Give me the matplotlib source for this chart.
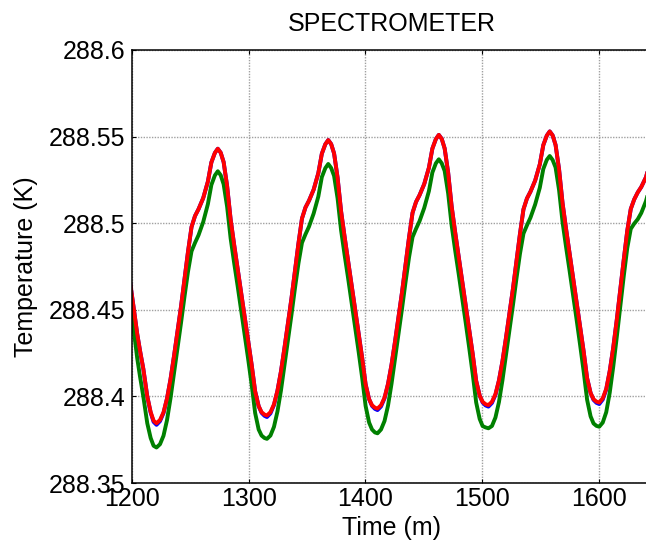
import matplotlib
matplotlib.use("Agg")
import matplotlib.pyplot as plt

plt.rcParams['font.family'] = ['Liberation Sans', 'DejaVu Sans']

# time (m) and temperature (K) readings for the three sensors
time_m = [
    1196, 1199, 1201.7, 1204.5, 1207, 1209.7, 1213.1, 1216, 1218.5,
    1221.0, 1224.0, 1227.0, 1230.0, 1233.0, 1236.0, 1239.0, 1242.0, 1245.0, 1248.0, 1251.0, 1254.0, 1257.0, 1261.0, 1265.0, 1268.0, 1271.0, 1273.5,
    1276.0, 1278.5, 1281.5, 1284.5, 1287.5, 1290.5, 1293.5, 1296.5, 1299.5, 1302.5, 1305.5, 1308.5, 1311.0, 1313.5,
    1315.6, 1318.6, 1321.6, 1324.6, 1327.6, 1330.6, 1333.6, 1336.6, 1339.6, 1342.6, 1345.6, 1348.6, 1351.6, 1355.6, 1359.6, 1362.6, 1365.6, 1368.1,
    1370.6, 1373.1, 1376.1, 1379.1, 1382.1, 1385.1, 1388.1, 1391.1, 1394.1, 1397.1, 1400.1, 1403.1, 1405.6, 1408.1,
    1410.3, 1413.3, 1416.3, 1419.3, 1422.3, 1425.3, 1428.3, 1431.3, 1434.3, 1437.3, 1440.3, 1443.3, 1446.3, 1450.3, 1454.3, 1457.3, 1460.3, 1462.8,
    1465.3, 1467.8, 1470.8, 1473.8, 1476.8, 1479.8, 1482.8, 1485.8, 1488.8, 1491.8, 1494.8, 1497.8, 1500.3, 1502.8,
    1505.3, 1508.3, 1511.3, 1514.3, 1517.3, 1520.3, 1523.3, 1526.3, 1529.3, 1532.3, 1535.3, 1538.3, 1541.3, 1545.3, 1549.3, 1552.3, 1555.3, 1557.8,
    1560.3, 1562.8, 1565.8, 1568.8, 1571.8, 1574.8, 1577.8, 1580.8, 1583.8, 1586.8, 1589.8, 1592.8, 1595.3, 1597.8,
    1600.2, 1603.2, 1606.2, 1609.2, 1612.2, 1615.2, 1618.2, 1621.2, 1624.2, 1627.2, 1630.2, 1633.2, 1636.2, 1640.2, 1644.2, 1647.2,
]

temp_red = [
    288.478, 288.463, 288.45, 288.436, 288.426, 288.416, 288.40, 288.391, 288.386,
    288.3845, 288.3864, 288.3908, 288.3988, 288.4099, 288.4233, 288.4376, 288.4519, 288.4677, 288.4836, 288.4978, 288.5042, 288.5081, 288.5145, 288.524, 288.5351, 288.5406, 288.543,
    288.5407, 288.5353, 288.5214, 288.5022, 288.4876, 288.4737, 288.4598, 288.446, 288.4321, 288.4183, 288.4029, 288.3944, 288.3909, 288.3895,
    288.389, 288.3909, 288.3954, 288.4033, 288.4144, 288.428, 288.4423, 288.4566, 288.4725, 288.4884, 288.5027, 288.5091, 288.513, 288.5194, 288.5289, 288.5401, 288.5456, 288.548,
    288.5457, 288.5403, 288.5263, 288.5069, 288.4922, 288.4783, 288.4643, 288.4504, 288.4364, 288.4225, 288.407, 288.3984, 288.3949, 288.3935,
    288.393, 288.3949, 288.3993, 288.4072, 288.4183, 288.4317, 288.4459, 288.4602, 288.476, 288.4918, 288.506, 288.5123, 288.5162, 288.5226, 288.532, 288.5431, 288.5486, 288.551,
    288.5487, 288.5432, 288.5292, 288.5097, 288.4948, 288.4808, 288.4668, 288.4527, 288.4387, 288.4246, 288.409, 288.4005, 288.3969, 288.3955,
    288.395, 288.3969, 288.4013, 288.4092, 288.4203, 288.4337, 288.4479, 288.4622, 288.478, 288.4938, 288.508, 288.5143, 288.5182, 288.5246, 288.534, 288.5451, 288.5506, 288.553,
    288.5507, 288.5452, 288.5311, 288.5115, 288.4967, 288.4826, 288.4685, 288.4544, 288.4403, 288.4262, 288.4106, 288.402, 288.3984, 288.397,
    288.3965, 288.3989, 288.4044, 288.4147, 288.4282, 288.4441, 288.4615, 288.4789, 288.4956, 288.5082, 288.5138, 288.5178, 288.5209, 288.5265, 288.536, 288.5447,
]

temp_blue = [
    288.478, 288.463, 288.45, 288.436, 288.426, 288.416, 288.40, 288.3906, 288.3853,
    288.3836, 288.3857, 288.3904, 288.3988, 288.4099, 288.4233, 288.4376, 288.4519, 288.4677, 288.4836, 288.4978, 288.5042, 288.5081, 288.5145, 288.524, 288.5351, 288.5406, 288.543,
    288.5407, 288.5353, 288.5214, 288.5022, 288.4876, 288.4737, 288.4598, 288.446, 288.4321, 288.4183, 288.4029, 288.3944, 288.3905, 288.3888,
    288.3881, 288.3902, 288.395, 288.4033, 288.4144, 288.428, 288.4423, 288.4566, 288.4725, 288.4884, 288.5027, 288.5091, 288.513, 288.5194, 288.5289, 288.5401, 288.5456, 288.548,
    288.5457, 288.5403, 288.5263, 288.5069, 288.4922, 288.4783, 288.4643, 288.4504, 288.4364, 288.4225, 288.407, 288.3984, 288.3945, 288.3928,
    288.3921, 288.3942, 288.3989, 288.4072, 288.4183, 288.4317, 288.4459, 288.4602, 288.476, 288.4918, 288.506, 288.5123, 288.5162, 288.5226, 288.532, 288.5431, 288.5486, 288.551,
    288.5487, 288.5432, 288.5292, 288.5097, 288.4948, 288.4808, 288.4668, 288.4527, 288.4387, 288.4246, 288.409, 288.4005, 288.3965, 288.3948,
    288.3941, 288.3962, 288.4009, 288.4092, 288.4203, 288.4337, 288.4479, 288.4622, 288.478, 288.4938, 288.508, 288.5143, 288.5182, 288.5246, 288.534, 288.5451, 288.5506, 288.553,
    288.5507, 288.5452, 288.5311, 288.5115, 288.4967, 288.4826, 288.4685, 288.4544, 288.4403, 288.4262, 288.4106, 288.402, 288.398, 288.3963,
    288.3956, 288.3982, 288.404, 288.4147, 288.4282, 288.4441, 288.4615, 288.4789, 288.4956, 288.5082, 288.5138, 288.5178, 288.5209, 288.5265, 288.536, 288.5447,
]

temp_green = [
    288.4675, 288.452, 288.4375, 288.422, 288.411, 288.4, 288.3845, 288.376, 288.3715,
    288.3705, 288.3724, 288.3773, 288.3863, 288.3989, 288.4133, 288.4281, 288.4424, 288.4577, 288.4721, 288.4838, 288.4887, 288.4931, 288.5007, 288.511, 288.5221, 288.5276, 288.530,
    288.5277, 288.5225, 288.5094, 288.4912, 288.4771, 288.4637, 288.4498, 288.436, 288.4216, 288.4068, 288.3904, 288.3809, 288.3774, 288.376,
    288.3755, 288.3774, 288.3824, 288.3913, 288.4034, 288.418, 288.4328, 288.4471, 288.4625, 288.4769, 288.4887, 288.4936, 288.498, 288.5056, 288.5154, 288.5266, 288.5318, 288.5342,
    288.5319, 288.5273, 288.5143, 288.4959, 288.4817, 288.4683, 288.4543, 288.4404, 288.4259, 288.411, 288.3945, 288.3849, 288.3809, 288.3792,
    288.3787, 288.3809, 288.3858, 288.3947, 288.4073, 288.4217, 288.4364, 288.4507, 288.466, 288.4803, 288.492, 288.4968, 288.5012, 288.5088, 288.5185, 288.5293, 288.5346, 288.5369,
    288.5346, 288.5302, 288.5172, 288.4987, 288.4843, 288.4708, 288.4568, 288.4427, 288.4282, 288.4131, 288.3965, 288.387, 288.3829, 288.3821,
    288.3816, 288.3829, 288.3878, 288.3967, 288.4093, 288.4237, 288.4384, 288.4527, 288.468, 288.4823, 288.494, 288.4988, 288.5032, 288.5108, 288.5205, 288.5313, 288.5366, 288.5388,
    288.5365, 288.5322, 288.5191, 288.5005, 288.4862, 288.4726, 288.4585, 288.4444, 288.4298, 288.4147, 288.3981, 288.3885, 288.3844, 288.383,
    288.3825, 288.3849, 288.3909, 288.4022, 288.4172, 288.4341, 288.452, 288.4694, 288.4856, 288.4967, 288.4998, 288.5023, 288.5059, 288.5127, 288.5225, 288.5312,
]

x_ticks = [1200, 1300, 1400, 1500, 1600]
y_ticks = [288.35, 288.4, 288.45, 288.5, 288.55, 288.6]
y_tick_labels = ['288.35', '288.4', '288.45', '288.5', '288.55', '288.6']

fig = plt.figure(figsize=(6.46, 5.44), dpi=100)
ax = fig.add_axes([0.2043, 0.1121, 0.8050, 0.7960])

for temps, col in [(temp_blue, '#0000ff'), (temp_green, '#008000'), (temp_red, '#ff0000')]:
    ax.plot(time_m, temps, color=col, lw=2.8, solid_joinstyle='round')

ax.set_xlim(1200, 1645.4)
ax.set_ylim(288.35, 288.6)
ax.set_xticks(x_ticks)
ax.set_yticks(y_ticks)
ax.set_yticklabels(y_tick_labels)

ax.grid(True, color='#a0a0a0', linestyle=(0, (1, 1)), linewidth=1.0)
ax.set_axisbelow(True)
ax.tick_params(direction='in', length=3, width=0.8, top=True, right=True,
               labelsize=18, colors='black')
ax.tick_params(axis='x', pad=3)
ax.tick_params(axis='y', pad=5)
for sp in ax.spines.values():
    sp.set_linewidth(1.1)

ax.set_title('SPECTROMETER', fontsize=18, pad=13.5)
ax.set_xlabel('Time (m)', fontsize=18)
ax.set_ylabel('Temperature (K)', fontsize=18)
ax.xaxis.set_label_coords(0.5, -0.076)
ax.yaxis.set_label_coords(-0.180, 0.5)

fig.savefig('out.png', dpi=100)
